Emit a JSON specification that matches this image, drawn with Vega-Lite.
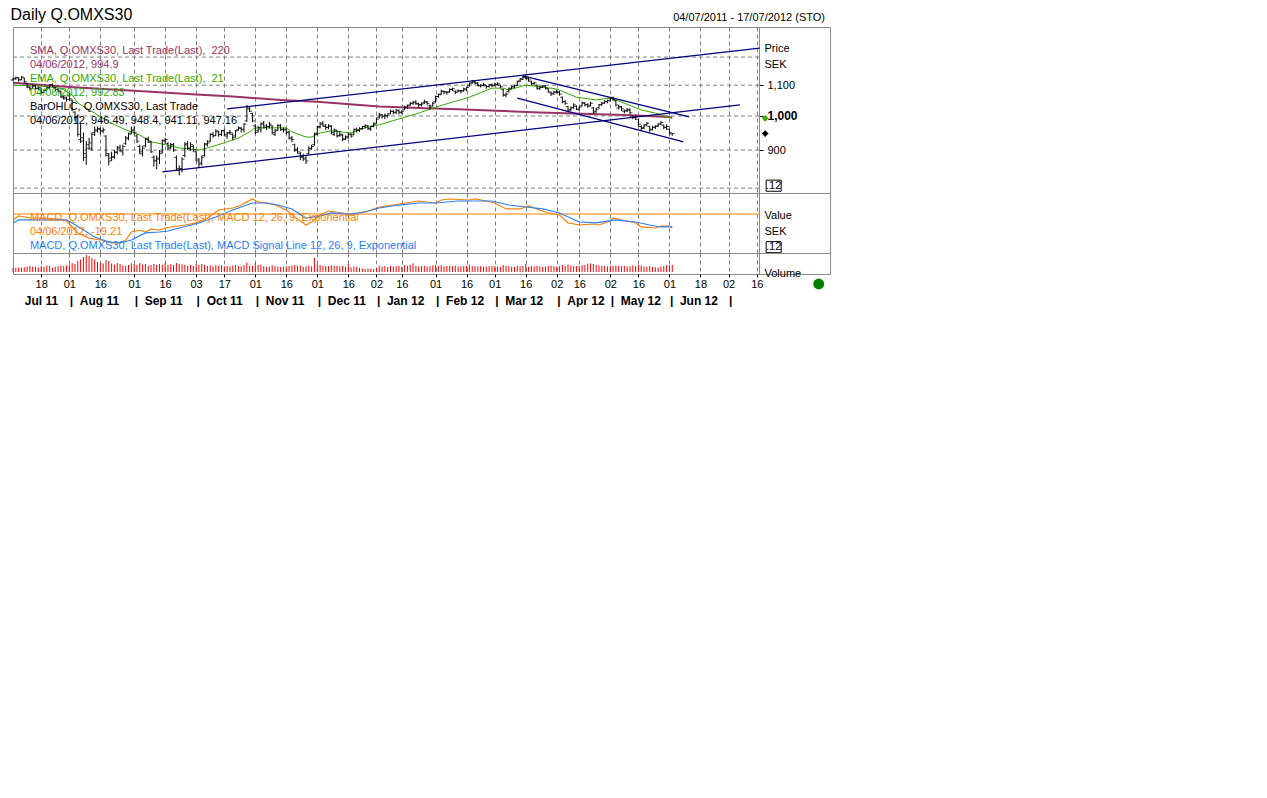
{
"$schema": "https://vega.github.io/schema/vega-lite/v6.json",
"background": "white",
"padding": {"left": 8, "top": 6, "right": 0, "bottom": 0},
"spacing": 0,
"bounds": "flush",
"resolve": {"scale": {"color": "independent"}},
"title": {"text": "Daily Q.OMXS30", "anchor": "start", "fontSize": 16, "fontWeight": "normal", "color": "black", "dx": 2, "offset": -11},
"params": [
 {"name": "days", "value": ["2011-07-04","2011-07-05","2011-07-06","2011-07-07","2011-07-08","2011-07-11","2011-07-12","2011-07-13","2011-07-14","2011-07-15","2011-07-18","2011-07-19","2011-07-20","2011-07-21","2011-07-22","2011-07-25","2011-07-26","2011-07-27","2011-07-28","2011-07-29",
 "2011-08-01","2011-08-02","2011-08-03","2011-08-04","2011-08-05","2011-08-08","2011-08-09","2011-08-10","2011-08-11","2011-08-12","2011-08-15","2011-08-16","2011-08-17","2011-08-18","2011-08-19","2011-08-22","2011-08-23","2011-08-24","2011-08-25","2011-08-26","2011-08-29","2011-08-30","2011-08-31",
 "2011-09-01","2011-09-02","2011-09-05","2011-09-06","2011-09-07","2011-09-08","2011-09-09","2011-09-12","2011-09-13","2011-09-14","2011-09-15","2011-09-16","2011-09-19","2011-09-20","2011-09-21","2011-09-22","2011-09-23","2011-09-26","2011-09-27","2011-09-28","2011-09-29","2011-09-30",
 "2011-10-03","2011-10-04","2011-10-05","2011-10-06","2011-10-07","2011-10-10","2011-10-11","2011-10-12","2011-10-13","2011-10-14","2011-10-17","2011-10-18","2011-10-19","2011-10-20","2011-10-21","2011-10-24","2011-10-25","2011-10-26","2011-10-27","2011-10-28","2011-10-31",
 "2011-11-01","2011-11-02","2011-11-03","2011-11-04","2011-11-07","2011-11-08","2011-11-09","2011-11-10","2011-11-11","2011-11-14","2011-11-15","2011-11-16","2011-11-17","2011-11-18","2011-11-21","2011-11-22","2011-11-23","2011-11-24","2011-11-25","2011-11-28","2011-11-29","2011-11-30",
 "2011-12-01","2011-12-02","2011-12-05","2011-12-06","2011-12-07","2011-12-08","2011-12-09","2011-12-12","2011-12-13","2011-12-14","2011-12-15","2011-12-16","2011-12-19","2011-12-20","2011-12-21","2011-12-22","2011-12-23","2011-12-27","2011-12-28","2011-12-29","2011-12-30",
 "2012-01-02","2012-01-03","2012-01-04","2012-01-05","2012-01-09","2012-01-10","2012-01-11","2012-01-12","2012-01-13","2012-01-16","2012-01-17","2012-01-18","2012-01-19","2012-01-20","2012-01-23","2012-01-24","2012-01-25","2012-01-26","2012-01-27","2012-01-30","2012-01-31",
 "2012-02-01","2012-02-02","2012-02-03","2012-02-06","2012-02-07","2012-02-08","2012-02-09","2012-02-10","2012-02-13","2012-02-14","2012-02-15","2012-02-16","2012-02-17","2012-02-20","2012-02-21","2012-02-22","2012-02-23","2012-02-24","2012-02-27","2012-02-28","2012-02-29",
 "2012-03-01","2012-03-02","2012-03-05","2012-03-06","2012-03-07","2012-03-08","2012-03-09","2012-03-12","2012-03-13","2012-03-14","2012-03-15","2012-03-16","2012-03-19","2012-03-20","2012-03-21","2012-03-22","2012-03-23","2012-03-26","2012-03-27","2012-03-28","2012-03-29","2012-03-30",
 "2012-04-02","2012-04-03","2012-04-04","2012-04-05","2012-04-10","2012-04-11","2012-04-12","2012-04-13","2012-04-16","2012-04-17","2012-04-18","2012-04-19","2012-04-20","2012-04-23","2012-04-24","2012-04-25","2012-04-26","2012-04-27","2012-04-30",
 "2012-05-02","2012-05-03","2012-05-04","2012-05-07","2012-05-08","2012-05-09","2012-05-10","2012-05-11","2012-05-14","2012-05-15","2012-05-16","2012-05-18","2012-05-21","2012-05-22","2012-05-23","2012-05-24","2012-05-25","2012-05-28","2012-05-29","2012-05-30","2012-05-31",
 "2012-06-01","2012-06-04","2012-06-05","2012-06-06","2012-06-07","2012-06-08","2012-06-11","2012-06-12","2012-06-13","2012-06-14","2012-06-15","2012-06-18","2012-06-19","2012-06-20","2012-06-21","2012-06-22","2012-06-25","2012-06-26","2012-06-27","2012-06-28","2012-06-29",
 "2012-07-02","2012-07-03","2012-07-04","2012-07-05","2012-07-06","2012-07-09","2012-07-10","2012-07-11","2012-07-12","2012-07-13","2012-07-16","2012-07-17","2012-07-18","2012-07-19","2012-07-20","2012-07-23","2012-07-24","2012-07-25","2012-07-26","2012-07-27","2012-07-30","2012-07-31",
 "2012-08-01","2012-08-02","2012-08-03","2012-08-06","2012-08-07","2012-08-08","2012-08-09","2012-08-10","2012-08-13","2012-08-14","2012-08-15","2012-08-16","2012-08-17","2012-08-20","2012-08-21"]},
 {"name": "tickdays", "value": ["2011-07-18","2011-08-01","2011-08-16","2011-09-01","2011-09-16","2011-10-03","2011-10-17","2011-11-01","2011-11-16","2011-12-01","2011-12-16","2012-01-02","2012-01-16","2012-02-01","2012-02-16","2012-03-01","2012-03-16","2012-04-02","2012-04-16","2012-05-02","2012-05-16","2012-06-01","2012-06-18","2012-07-02","2012-07-16"]}
],
"datasets": {
 "px": [
{"d":"2011-07-04","o":1118,"h":1126,"l":1115,"c":1122,"v":40},
{"d":"2011-07-05","o":1122,"h":1130,"l":1119,"c":1126,"v":42},
{"d":"2011-07-06","o":1125,"h":1127,"l":1112,"c":1118,"v":45},
{"d":"2011-07-07","o":1119,"h":1132,"l":1117,"c":1128,"v":44},
{"d":"2011-07-08","o":1125,"h":1126,"l":1108,"c":1112,"v":48},
{"d":"2011-07-11","o":1106,"h":1108,"l":1090,"c":1095,"v":55},
{"d":"2011-07-12","o":1092,"h":1096,"l":1082,"c":1088,"v":60},
{"d":"2011-07-13","o":1090,"h":1102,"l":1088,"c":1098,"v":52},
{"d":"2011-07-14","o":1097,"h":1100,"l":1085,"c":1090,"v":50},
{"d":"2011-07-15","o":1088,"h":1096,"l":1084,"c":1092,"v":45},
{"d":"2011-07-18","o":1086,"h":1090,"l":1070,"c":1075,"v":58},
{"d":"2011-07-19","o":1076,"h":1086,"l":1074,"c":1082,"v":52},
{"d":"2011-07-20","o":1084,"h":1095,"l":1082,"c":1092,"v":65},
{"d":"2011-07-21","o":1090,"h":1103,"l":1086,"c":1100,"v":60},
{"d":"2011-07-22","o":1102,"h":1106,"l":1094,"c":1098,"v":45},
{"d":"2011-07-25","o":1092,"h":1094,"l":1080,"c":1085,"v":52},
{"d":"2011-07-26","o":1086,"h":1090,"l":1076,"c":1080,"v":58},
{"d":"2011-07-27","o":1078,"h":1082,"l":1058,"c":1062,"v":66},
{"d":"2011-07-28","o":1058,"h":1068,"l":1052,"c":1060,"v":60},
{"d":"2011-07-29","o":1055,"h":1062,"l":1045,"c":1052,"v":65},
{"d":"2011-08-01","o":1065,"h":1072,"l":1050,"c":1055,"v":75},
{"d":"2011-08-02","o":1050,"h":1053,"l":1015,"c":1020,"v":88},
{"d":"2011-08-03","o":1012,"h":1015,"l":985,"c":995,"v":82},
{"d":"2011-08-04","o":998,"h":1005,"l":938,"c":945,"v":110},
{"d":"2011-08-05","o":930,"h":975,"l":920,"c":935,"v":125},
{"d":"2011-08-08","o":925,"h":950,"l":870,"c":890,"v":150},
{"d":"2011-08-09","o":880,"h":925,"l":860,"c":905,"v":170},
{"d":"2011-08-10","o":915,"h":935,"l":900,"c":920,"v":160},
{"d":"2011-08-11","o":905,"h":950,"l":898,"c":945,"v":140},
{"d":"2011-08-12","o":950,"h":968,"l":940,"c":955,"v":125},
{"d":"2011-08-15","o":958,"h":968,"l":950,"c":962,"v":100},
{"d":"2011-08-16","o":960,"h":965,"l":945,"c":955,"v":92},
{"d":"2011-08-17","o":955,"h":965,"l":948,"c":958,"v":85},
{"d":"2011-08-18","o":940,"h":942,"l":882,"c":890,"v":120},
{"d":"2011-08-19","o":885,"h":892,"l":858,"c":870,"v":110},
{"d":"2011-08-22","o":878,"h":895,"l":870,"c":880,"v":85},
{"d":"2011-08-23","o":882,"h":900,"l":875,"c":895,"v":75},
{"d":"2011-08-24","o":893,"h":912,"l":888,"c":905,"v":90},
{"d":"2011-08-25","o":908,"h":915,"l":895,"c":900,"v":80},
{"d":"2011-08-26","o":895,"h":915,"l":885,"c":910,"v":65},
{"d":"2011-08-29","o":918,"h":940,"l":915,"c":935,"v":60},
{"d":"2011-08-30","o":932,"h":950,"l":928,"c":945,"v":70},
{"d":"2011-08-31","o":948,"h":968,"l":945,"c":955,"v":88},
{"d":"2011-09-01","o":958,"h":968,"l":945,"c":950,"v":80},
{"d":"2011-09-02","o":940,"h":945,"l":920,"c":925,"v":72},
{"d":"2011-09-05","o":910,"h":915,"l":888,"c":895,"v":90},
{"d":"2011-09-06","o":890,"h":912,"l":882,"c":905,"v":75},
{"d":"2011-09-07","o":912,"h":935,"l":908,"c":930,"v":80},
{"d":"2011-09-08","o":932,"h":938,"l":920,"c":925,"v":62},
{"d":"2011-09-09","o":922,"h":926,"l":892,"c":895,"v":70},
{"d":"2011-09-12","o":880,"h":885,"l":855,"c":870,"v":80},
{"d":"2011-09-13","o":872,"h":885,"l":848,"c":875,"v":70},
{"d":"2011-09-14","o":878,"h":900,"l":862,"c":890,"v":80},
{"d":"2011-09-15","o":895,"h":930,"l":890,"c":925,"v":72},
{"d":"2011-09-16","o":928,"h":935,"l":918,"c":930,"v":90},
{"d":"2011-09-19","o":918,"h":922,"l":900,"c":905,"v":70},
{"d":"2011-09-20","o":908,"h":920,"l":902,"c":915,"v":78},
{"d":"2011-09-21","o":915,"h":920,"l":895,"c":900,"v":70},
{"d":"2011-09-22","o":880,"h":885,"l":845,"c":850,"v":90},
{"d":"2011-09-23","o":845,"h":858,"l":832,"c":848,"v":80},
{"d":"2011-09-26","o":850,"h":880,"l":840,"c":875,"v":78},
{"d":"2011-09-27","o":885,"h":922,"l":880,"c":915,"v":72},
{"d":"2011-09-28","o":918,"h":925,"l":900,"c":905,"v":62},
{"d":"2011-09-29","o":905,"h":922,"l":898,"c":915,"v":70},
{"d":"2011-09-30","o":910,"h":915,"l":895,"c":900,"v":60},
{"d":"2011-10-03","o":895,"h":898,"l":870,"c":875,"v":78},
{"d":"2011-10-04","o":870,"h":878,"l":852,"c":862,"v":72},
{"d":"2011-10-05","o":865,"h":885,"l":858,"c":880,"v":80},
{"d":"2011-10-06","o":885,"h":920,"l":882,"c":915,"v":70},
{"d":"2011-10-07","o":918,"h":928,"l":910,"c":920,"v":60},
{"d":"2011-10-10","o":925,"h":948,"l":922,"c":945,"v":65},
{"d":"2011-10-11","o":945,"h":952,"l":935,"c":940,"v":58},
{"d":"2011-10-12","o":942,"h":960,"l":940,"c":955,"v":70},
{"d":"2011-10-13","o":952,"h":955,"l":938,"c":945,"v":62},
{"d":"2011-10-14","o":944,"h":958,"l":940,"c":955,"v":68},
{"d":"2011-10-17","o":956,"h":960,"l":940,"c":945,"v":58},
{"d":"2011-10-18","o":940,"h":952,"l":932,"c":948,"v":62},
{"d":"2011-10-19","o":950,"h":958,"l":944,"c":950,"v":55},
{"d":"2011-10-20","o":945,"h":948,"l":928,"c":935,"v":65},
{"d":"2011-10-21","o":940,"h":958,"l":936,"c":955,"v":70},
{"d":"2011-10-24","o":958,"h":968,"l":955,"c":965,"v":60},
{"d":"2011-10-25","o":962,"h":966,"l":950,"c":960,"v":58},
{"d":"2011-10-26","o":958,"h":978,"l":950,"c":975,"v":68},
{"d":"2011-10-27","o":985,"h":1035,"l":982,"c":1025,"v":95},
{"d":"2011-10-28","o":1022,"h":1030,"l":1012,"c":1015,"v":62},
{"d":"2011-10-31","o":1008,"h":1010,"l":982,"c":985,"v":60},
{"d":"2011-11-01","o":970,"h":975,"l":945,"c":950,"v":90},
{"d":"2011-11-02","o":955,"h":970,"l":950,"c":965,"v":70},
{"d":"2011-11-03","o":960,"h":980,"l":950,"c":975,"v":75},
{"d":"2011-11-04","o":978,"h":985,"l":962,"c":970,"v":60},
{"d":"2011-11-07","o":965,"h":975,"l":958,"c":968,"v":52},
{"d":"2011-11-08","o":968,"h":982,"l":962,"c":975,"v":55},
{"d":"2011-11-09","o":970,"h":972,"l":945,"c":950,"v":68},
{"d":"2011-11-10","o":945,"h":960,"l":940,"c":955,"v":60},
{"d":"2011-11-11","o":958,"h":975,"l":955,"c":970,"v":55},
{"d":"2011-11-14","o":972,"h":975,"l":955,"c":960,"v":50},
{"d":"2011-11-15","o":958,"h":965,"l":950,"c":958,"v":52},
{"d":"2011-11-16","o":960,"h":962,"l":945,"c":950,"v":55},
{"d":"2011-11-17","o":952,"h":955,"l":930,"c":935,"v":60},
{"d":"2011-11-18","o":932,"h":940,"l":922,"c":930,"v":65},
{"d":"2011-11-21","o":915,"h":918,"l":895,"c":900,"v":70},
{"d":"2011-11-22","o":902,"h":908,"l":890,"c":895,"v":62},
{"d":"2011-11-23","o":890,"h":895,"l":872,"c":880,"v":65},
{"d":"2011-11-24","o":882,"h":890,"l":870,"c":878,"v":50},
{"d":"2011-11-25","o":875,"h":885,"l":862,"c":870,"v":55},
{"d":"2011-11-28","o":890,"h":910,"l":888,"c":905,"v":65},
{"d":"2011-11-29","o":905,"h":915,"l":900,"c":910,"v":58},
{"d":"2011-11-30","o":915,"h":950,"l":912,"c":945,"v":140},
{"d":"2011-12-01","o":948,"h":970,"l":942,"c":965,"v":75},
{"d":"2011-12-02","o":968,"h":982,"l":962,"c":975,"v":70},
{"d":"2011-12-05","o":978,"h":985,"l":968,"c":972,"v":62},
{"d":"2011-12-06","o":968,"h":975,"l":958,"c":965,"v":60},
{"d":"2011-12-07","o":966,"h":975,"l":960,"c":968,"v":58},
{"d":"2011-12-08","o":970,"h":972,"l":945,"c":950,"v":68},
{"d":"2011-12-09","o":945,"h":962,"l":940,"c":958,"v":60},
{"d":"2011-12-12","o":955,"h":958,"l":936,"c":940,"v":62},
{"d":"2011-12-13","o":942,"h":955,"l":938,"c":945,"v":55},
{"d":"2011-12-14","o":942,"h":946,"l":925,"c":930,"v":60},
{"d":"2011-12-15","o":932,"h":942,"l":928,"c":935,"v":52},
{"d":"2011-12-16","o":938,"h":950,"l":932,"c":945,"v":80},
{"d":"2011-12-19","o":944,"h":948,"l":935,"c":940,"v":45},
{"d":"2011-12-20","o":945,"h":962,"l":942,"c":960,"v":55},
{"d":"2011-12-21","o":958,"h":965,"l":950,"c":958,"v":50},
{"d":"2011-12-22","o":956,"h":966,"l":952,"c":962,"v":42},
{"d":"2011-12-23","o":962,"h":970,"l":958,"c":968,"v":35},
{"d":"2011-12-27","o":968,"h":975,"l":962,"c":970,"v":30},
{"d":"2011-12-28","o":970,"h":972,"l":958,"c":962,"v":35},
{"d":"2011-12-29","o":960,"h":970,"l":955,"c":968,"v":32},
{"d":"2011-12-30","o":970,"h":980,"l":966,"c":975,"v":28},
{"d":"2012-01-02","o":978,"h":995,"l":975,"c":990,"v":40},
{"d":"2012-01-03","o":995,"h":1010,"l":992,"c":1005,"v":62},
{"d":"2012-01-04","o":1002,"h":1006,"l":992,"c":1000,"v":55},
{"d":"2012-01-05","o":998,"h":1008,"l":990,"c":1002,"v":58},
{"d":"2012-01-09","o":1000,"h":1008,"l":995,"c":1003,"v":50},
{"d":"2012-01-10","o":1008,"h":1020,"l":1005,"c":1015,"v":62},
{"d":"2012-01-11","o":1014,"h":1018,"l":1005,"c":1012,"v":55},
{"d":"2012-01-12","o":1010,"h":1022,"l":1006,"c":1018,"v":58},
{"d":"2012-01-13","o":1016,"h":1020,"l":1005,"c":1012,"v":60},
{"d":"2012-01-16","o":1010,"h":1018,"l":1006,"c":1015,"v":52},
{"d":"2012-01-17","o":1020,"h":1032,"l":1018,"c":1028,"v":68},
{"d":"2012-01-18","o":1026,"h":1036,"l":1022,"c":1032,"v":62},
{"d":"2012-01-19","o":1035,"h":1045,"l":1032,"c":1040,"v":70},
{"d":"2012-01-20","o":1040,"h":1048,"l":1035,"c":1042,"v":85},
{"d":"2012-01-23","o":1044,"h":1050,"l":1035,"c":1040,"v":60},
{"d":"2012-01-24","o":1038,"h":1042,"l":1028,"c":1035,"v":55},
{"d":"2012-01-25","o":1036,"h":1042,"l":1030,"c":1038,"v":58},
{"d":"2012-01-26","o":1042,"h":1052,"l":1038,"c":1045,"v":62},
{"d":"2012-01-27","o":1044,"h":1048,"l":1035,"c":1040,"v":55},
{"d":"2012-01-30","o":1032,"h":1036,"l":1020,"c":1028,"v":58},
{"d":"2012-01-31","o":1032,"h":1045,"l":1030,"c":1040,"v":65},
{"d":"2012-02-01","o":1045,"h":1065,"l":1042,"c":1062,"v":70},
{"d":"2012-02-02","o":1062,"h":1072,"l":1058,"c":1068,"v":62},
{"d":"2012-02-03","o":1070,"h":1085,"l":1068,"c":1080,"v":68},
{"d":"2012-02-06","o":1078,"h":1082,"l":1070,"c":1078,"v":55},
{"d":"2012-02-07","o":1076,"h":1080,"l":1068,"c":1075,"v":60},
{"d":"2012-02-08","o":1078,"h":1090,"l":1075,"c":1085,"v":62},
{"d":"2012-02-09","o":1086,"h":1092,"l":1080,"c":1088,"v":58},
{"d":"2012-02-10","o":1080,"h":1082,"l":1070,"c":1075,"v":65},
{"d":"2012-02-13","o":1080,"h":1086,"l":1076,"c":1082,"v":55},
{"d":"2012-02-14","o":1080,"h":1084,"l":1072,"c":1080,"v":58},
{"d":"2012-02-15","o":1082,"h":1092,"l":1078,"c":1088,"v":60},
{"d":"2012-02-16","o":1085,"h":1095,"l":1080,"c":1092,"v":62},
{"d":"2012-02-17","o":1098,"h":1110,"l":1095,"c":1105,"v":75},
{"d":"2012-02-20","o":1108,"h":1118,"l":1105,"c":1112,"v":58},
{"d":"2012-02-21","o":1110,"h":1115,"l":1102,"c":1108,"v":60},
{"d":"2012-02-22","o":1106,"h":1110,"l":1096,"c":1100,"v":55},
{"d":"2012-02-23","o":1098,"h":1104,"l":1092,"c":1098,"v":58},
{"d":"2012-02-24","o":1100,"h":1108,"l":1096,"c":1102,"v":52},
{"d":"2012-02-27","o":1098,"h":1100,"l":1088,"c":1095,"v":55},
{"d":"2012-02-28","o":1096,"h":1104,"l":1092,"c":1100,"v":58},
{"d":"2012-02-29","o":1102,"h":1106,"l":1094,"c":1098,"v":60},
{"d":"2012-03-01","o":1100,"h":1108,"l":1096,"c":1102,"v":58},
{"d":"2012-03-02","o":1104,"h":1110,"l":1100,"c":1105,"v":55},
{"d":"2012-03-05","o":1100,"h":1102,"l":1090,"c":1095,"v":52},
{"d":"2012-03-06","o":1085,"h":1088,"l":1062,"c":1068,"v":70},
{"d":"2012-03-07","o":1066,"h":1076,"l":1060,"c":1070,"v":62},
{"d":"2012-03-08","o":1078,"h":1092,"l":1075,"c":1088,"v":58},
{"d":"2012-03-09","o":1090,"h":1098,"l":1086,"c":1095,"v":55},
{"d":"2012-03-12","o":1094,"h":1102,"l":1090,"c":1098,"v":50},
{"d":"2012-03-13","o":1100,"h":1115,"l":1098,"c":1112,"v":62},
{"d":"2012-03-14","o":1115,"h":1125,"l":1110,"c":1122,"v":58},
{"d":"2012-03-15","o":1120,"h":1132,"l":1118,"c":1128,"v":60},
{"d":"2012-03-16","o":1126,"h":1135,"l":1120,"c":1125,"v":80},
{"d":"2012-03-19","o":1122,"h":1126,"l":1112,"c":1118,"v":52},
{"d":"2012-03-20","o":1112,"h":1115,"l":1100,"c":1105,"v":60},
{"d":"2012-03-21","o":1106,"h":1112,"l":1102,"c":1108,"v":55},
{"d":"2012-03-22","o":1100,"h":1102,"l":1085,"c":1090,"v":62},
{"d":"2012-03-23","o":1088,"h":1096,"l":1084,"c":1092,"v":58},
{"d":"2012-03-26","o":1094,"h":1100,"l":1090,"c":1095,"v":52},
{"d":"2012-03-27","o":1098,"h":1100,"l":1086,"c":1090,"v":55},
{"d":"2012-03-28","o":1088,"h":1090,"l":1075,"c":1078,"v":60},
{"d":"2012-03-29","o":1074,"h":1078,"l":1064,"c":1070,"v":62},
{"d":"2012-03-30","o":1072,"h":1080,"l":1068,"c":1075,"v":58},
{"d":"2012-04-02","o":1078,"h":1085,"l":1072,"c":1078,"v":55},
{"d":"2012-04-03","o":1076,"h":1080,"l":1065,"c":1070,"v":58},
{"d":"2012-04-04","o":1060,"h":1062,"l":1040,"c":1045,"v":70},
{"d":"2012-04-05","o":1046,"h":1050,"l":1035,"c":1040,"v":62},
{"d":"2012-04-10","o":1030,"h":1032,"l":1012,"c":1018,"v":75},
{"d":"2012-04-11","o":1020,"h":1030,"l":1015,"c":1025,"v":65},
{"d":"2012-04-12","o":1026,"h":1040,"l":1022,"c":1035,"v":60},
{"d":"2012-04-13","o":1030,"h":1034,"l":1018,"c":1022,"v":58},
{"d":"2012-04-16","o":1020,"h":1032,"l":1015,"c":1028,"v":62},
{"d":"2012-04-17","o":1032,"h":1046,"l":1030,"c":1042,"v":68},
{"d":"2012-04-18","o":1040,"h":1044,"l":1030,"c":1035,"v":70},
{"d":"2012-04-19","o":1036,"h":1040,"l":1026,"c":1030,"v":82},
{"d":"2012-04-20","o":1034,"h":1045,"l":1030,"c":1040,"v":85},
{"d":"2012-04-23","o":1025,"h":1028,"l":1006,"c":1012,"v":80},
{"d":"2012-04-24","o":1015,"h":1025,"l":1010,"c":1020,"v":70},
{"d":"2012-04-25","o":1026,"h":1038,"l":1022,"c":1035,"v":65},
{"d":"2012-04-26","o":1036,"h":1044,"l":1032,"c":1040,"v":62},
{"d":"2012-04-27","o":1042,"h":1050,"l":1038,"c":1045,"v":60},
{"d":"2012-04-30","o":1046,"h":1052,"l":1040,"c":1048,"v":55},
{"d":"2012-05-02","o":1050,"h":1060,"l":1045,"c":1055,"v":62},
{"d":"2012-05-03","o":1056,"h":1062,"l":1048,"c":1052,"v":58},
{"d":"2012-05-04","o":1048,"h":1050,"l":1030,"c":1035,"v":65},
{"d":"2012-05-07","o":1025,"h":1035,"l":1020,"c":1030,"v":60},
{"d":"2012-05-08","o":1028,"h":1032,"l":1015,"c":1022,"v":58},
{"d":"2012-05-09","o":1015,"h":1020,"l":1008,"c":1015,"v":62},
{"d":"2012-05-10","o":1018,"h":1025,"l":1012,"c":1018,"v":55},
{"d":"2012-05-11","o":1020,"h":1024,"l":1005,"c":1010,"v":58},
{"d":"2012-05-14","o":1000,"h":1002,"l":990,"c":995,"v":65},
{"d":"2012-05-15","o":996,"h":1004,"l":988,"c":998,"v":60},
{"d":"2012-05-16","o":990,"h":992,"l":968,"c":975,"v":70},
{"d":"2012-05-18","o":968,"h":972,"l":955,"c":962,"v":65},
{"d":"2012-05-21","o":965,"h":975,"l":960,"c":970,"v":55},
{"d":"2012-05-22","o":974,"h":982,"l":970,"c":978,"v":52},
{"d":"2012-05-23","o":968,"h":970,"l":952,"c":958,"v":60},
{"d":"2012-05-24","o":960,"h":970,"l":956,"c":965,"v":50},
{"d":"2012-05-25","o":966,"h":972,"l":960,"c":968,"v":48},
{"d":"2012-05-28","o":970,"h":978,"l":966,"c":975,"v":45},
{"d":"2012-05-29","o":976,"h":985,"l":972,"c":980,"v":55},
{"d":"2012-05-30","o":972,"h":974,"l":960,"c":965,"v":60},
{"d":"2012-05-31","o":966,"h":975,"l":958,"c":968,"v":68},
{"d":"2012-06-01","o":960,"h":962,"l":945,"c":950,"v":70},
{"d":"2012-06-04","o":946.49,"h":948.4,"l":941.11,"c":947.16,"v":72}
 ],
 "sma": [
{"d":"2011-07-04","v":1108},{"d":"2011-08-01","v":1094},{"d":"2011-09-01","v":1081},{"d":"2011-10-03","v":1069},{"d":"2011-10-20","v":1062},{"d":"2011-11-14","v":1051},{"d":"2011-12-01","v":1045},{"d":"2012-01-03","v":1030},{"d":"2012-01-24","v":1025},{"d":"2012-02-13","v":1021},{"d":"2012-03-23","v":1011},{"d":"2012-05-09","v":1003},{"d":"2012-06-01","v":997},{"d":"2012-06-04","v":994.9}
 ],
 "ema": [
{"d":"2011-07-04","v":1100},{"d":"2011-07-18","v":1097},{"d":"2011-07-27","v":1090},{"d":"2011-08-02","v":1067},{"d":"2011-08-04","v":1041},{"d":"2011-08-12","v":1009},{"d":"2011-08-19","v":982},{"d":"2011-08-29","v":958},{"d":"2011-09-05","v":943},{"d":"2011-09-09","v":923},{"d":"2011-09-15","v":917},{"d":"2011-09-23","v":906},{"d":"2011-10-04","v":900},{"d":"2011-10-10","v":908},{"d":"2011-10-18","v":923},{"d":"2011-10-24","v":934},{"d":"2011-10-28","v":952},{"d":"2011-11-01","v":964},{"d":"2011-11-07","v":964},{"d":"2011-11-16","v":964},{"d":"2011-11-18","v":952},{"d":"2011-11-25","v":937},{"d":"2011-11-29","v":937},{"d":"2011-12-02","v":949},{"d":"2011-12-08","v":955},{"d":"2011-12-19","v":949},{"d":"2011-12-27","v":964},{"d":"2012-01-03","v":973},{"d":"2012-01-13","v":991},{"d":"2012-01-24","v":1009},{"d":"2012-02-01","v":1028},{"d":"2012-02-17","v":1060},{"d":"2012-02-29","v":1090},{"d":"2012-03-06","v":1090},{"d":"2012-03-08","v":1084},{"d":"2012-03-16","v":1100},{"d":"2012-03-26","v":1094},{"d":"2012-04-02","v":1087},{"d":"2012-04-13","v":1060},{"d":"2012-04-24","v":1051},{"d":"2012-05-02","v":1057},{"d":"2012-05-08","v":1044},{"d":"2012-05-18","v":1019},{"d":"2012-05-25","v":1009},{"d":"2012-06-04","v":992.83}
 ],
 "macd": [
{"d":"2011-07-04","m":-8.2},{"d":"2011-07-06","m":-2.7},{"d":"2011-07-12","m":-5.5},{"d":"2011-07-19","m":-5.5},{"d":"2011-07-26","m":-6.9},{"d":"2011-07-29","m":-9.6},{"d":"2011-08-02","m":-17.8},{"d":"2011-08-04","m":-26},{"d":"2011-08-10","m":-33},{"d":"2011-08-16","m":-35.7},{"d":"2011-08-22","m":-39.8},{"d":"2011-08-25","m":-39.8},{"d":"2011-08-29","m":-35.7},{"d":"2011-08-31","m":-24.7},{"d":"2011-09-05","m":-22},{"d":"2011-09-07","m":-24.7},{"d":"2011-09-09","m":-20.6},{"d":"2011-09-14","m":-22},{"d":"2011-09-16","m":-19.2},{"d":"2011-09-20","m":-17.8},{"d":"2011-09-27","m":-15.1},{"d":"2011-10-03","m":-12.3},{"d":"2011-10-07","m":-5.5},{"d":"2011-10-13","m":5.5},{"d":"2011-10-20","m":8.2},{"d":"2011-10-25","m":12.3},{"d":"2011-10-31","m":20.6},{"d":"2011-11-02","m":16.5},{"d":"2011-11-07","m":15.1},{"d":"2011-11-10","m":12.3},{"d":"2011-11-16","m":5.5},{"d":"2011-11-21","m":-4.1},{"d":"2011-11-25","m":-15.1},{"d":"2011-11-29","m":-11},{"d":"2011-12-02","m":-1.4},{"d":"2011-12-07","m":4.1},{"d":"2011-12-14","m":1.4},{"d":"2011-12-19","m":-1.4},{"d":"2011-12-22","m":1.4},{"d":"2011-12-28","m":4.1},{"d":"2012-01-03","m":9.6},{"d":"2012-01-13","m":13.7},{"d":"2012-01-24","m":17.8},{"d":"2012-02-01","m":15.1},{"d":"2012-02-03","m":19.2},{"d":"2012-02-08","m":20.6},{"d":"2012-02-17","m":19.2},{"d":"2012-02-21","m":20.6},{"d":"2012-02-27","m":17.8},{"d":"2012-03-01","m":15.1},{"d":"2012-03-07","m":6.9},{"d":"2012-03-14","m":6.9},{"d":"2012-03-19","m":11},{"d":"2012-03-22","m":6.9},{"d":"2012-03-28","m":1.4},{"d":"2012-04-03","m":-1.4},{"d":"2012-04-10","m":-12.3},{"d":"2012-04-16","m":-15.1},{"d":"2012-04-23","m":-13.7},{"d":"2012-04-25","m":-15.1},{"d":"2012-05-02","m":-9.6},{"d":"2012-05-03","m":-5.5},{"d":"2012-05-08","m":-8.2},{"d":"2012-05-15","m":-12.3},{"d":"2012-05-18","m":-17.8},{"d":"2012-05-25","m":-19.2},{"d":"2012-05-29","m":-16.5},{"d":"2012-06-01","m":-16.5},{"d":"2012-06-04","m":-19.21}
 ],
 "sig": [
{"d":"2011-07-04","s":-12.3},{"d":"2011-07-06","s":-8.2},{"d":"2011-07-12","s":-8.2},{"d":"2011-07-21","s":-8.2},{"d":"2011-07-29","s":-8.2},{"d":"2011-08-02","s":-12.3},{"d":"2011-08-08","s":-22},{"d":"2011-08-12","s":-31.6},{"d":"2011-08-19","s":-38.4},{"d":"2011-08-25","s":-39.8},{"d":"2011-08-31","s":-35.7},{"d":"2011-09-07","s":-26},{"d":"2011-09-14","s":-24.7},{"d":"2011-09-19","s":-23.3},{"d":"2011-09-23","s":-19.2},{"d":"2011-10-04","s":-12.3},{"d":"2011-10-12","s":-4.1},{"d":"2011-10-20","s":5.5},{"d":"2011-10-31","s":15.1},{"d":"2011-11-07","s":15.1},{"d":"2011-11-11","s":12.3},{"d":"2011-11-18","s":6.9},{"d":"2011-11-25","s":-5.5},{"d":"2011-12-02","s":-2.7},{"d":"2011-12-08","s":1.4},{"d":"2011-12-19","s":0},{"d":"2011-12-27","s":2.7},{"d":"2012-01-03","s":8.2},{"d":"2012-01-13","s":12.3},{"d":"2012-01-24","s":15.1},{"d":"2012-02-01","s":15.1},{"d":"2012-02-13","s":17.8},{"d":"2012-02-29","s":17.8},{"d":"2012-03-08","s":12.3},{"d":"2012-03-16","s":9.6},{"d":"2012-03-26","s":6.9},{"d":"2012-04-03","s":1.4},{"d":"2012-04-16","s":-11},{"d":"2012-04-24","s":-12.3},{"d":"2012-05-04","s":-8.2},{"d":"2012-05-15","s":-11},{"d":"2012-05-23","s":-15.1},{"d":"2012-05-29","s":-17.8},{"d":"2012-06-04","s":-17.8}
 ],
 "trend": [
{"k":1,"d":"2011-10-18","v":1022},{"k":1,"d":"2012-07-17","v":1234},
{"k":2,"d":"2011-09-15","v":841},{"k":2,"d":"2012-07-06","v":1035},
{"k":3,"d":"2012-03-15","v":1132},{"k":3,"d":"2012-06-12","v":997},
{"k":4,"d":"2012-03-13","v":1057},{"k":4,"d":"2012-06-08","v":923}
 ]
},
"vconcat": [
 {
  "width": 817, "height": 166,
  "title": {"text": "04/07/2011 - 17/07/2012 (STO)", "anchor": "end", "fontSize": 11, "fontWeight": "normal", "color": "black", "dx": -5, "offset": 4},
  "resolve": {"axis": {"x": "independent", "y": "independent"}},
  "encoding": {
   "x": {"field": "d", "type": "ordinal", "scale": {"type": "point", "domain": {"expr": "days"}, "padding": 0}, "axis": null}
  },
  "layer": [
   {"data": {"values": [{"level": 800}, {"level": 900}, {"level": 1000}, {"level": 1100}, {"level": 1200}]},
    "mark": {"type": "rule", "color": "#808080", "strokeDash": [4, 3], "strokeWidth": 1},
    "encoding": {
     "x": {"datum": "2011-07-04", "type": "ordinal", "axis": null},
     "x2": {"datum": "2012-07-17"},
     "y": {"field": "level", "type": "quantitative", "scale": {"type": "log", "domain": [788, 1317], "nice": false, "zero": false},
           "axis": {"orient": "right", "offset": -71, "values": [900, 1000, 1100], "format": ",", "grid": false,
                    "labelFontSize": {"condition": {"test": "datum.value == 1000", "value": 12}, "value": 11},
                    "labelFontWeight": {"condition": {"test": "datum.value == 1000", "value": "bold"}, "value": "normal"},
                    "tickSize": 4, "tickColor": "black", "labelPadding": 4, "domainColor": "#8a8a8a",
                    "title": ["Price", "SEK"], "titleAngle": 0, "titleAlign": "left", "titleBaseline": "top", "titleX": 5, "titleY": 15, "titleLineHeight": 16}}
    }},
   {"data": {"name": "sma"}, "mark": {"type": "line", "color": "#993366", "strokeWidth": 2},
    "encoding": {"y": {"field": "v", "type": "quantitative", "axis": null}}},
   {"data": {"name": "ema"}, "mark": {"type": "line", "color": "#33aa00", "strokeWidth": 1},
    "encoding": {"y": {"field": "v", "type": "quantitative", "axis": null}}},
   {"data": {"name": "trend"}, "mark": {"type": "line", "color": "#000080", "strokeWidth": 1.3},
    "encoding": {"y": {"field": "v", "type": "quantitative", "axis": null}, "detail": {"field": "k"}}},
   {"data": {"name": "px"}, "mark": {"type": "rule", "color": "black", "strokeWidth": 1},
    "encoding": {
     "x": {"field": "d", "type": "ordinal",
           "axis": {"values": {"expr": "tickdays"}, "labels": false, "ticks": false, "domain": false, "grid": true, "gridColor": "#808080", "gridDash": [4, 3], "title": null}},
     "y": {"field": "h", "type": "quantitative", "axis": null}, "y2": {"field": "l"}}},
   {"data": {"name": "px"}, "mark": {"type": "tick", "orient": "horizontal", "color": "black", "size": 2.5, "thickness": 1, "xOffset": -1.2},
    "encoding": {"y": {"field": "o", "type": "quantitative", "axis": null}}},
   {"data": {"name": "px"}, "mark": {"type": "tick", "orient": "horizontal", "color": "black", "size": 2.5, "thickness": 1, "xOffset": 1.2},
    "encoding": {"y": {"field": "c", "type": "quantitative", "axis": null}}},
   {"data": {"values": [
      {"t": ["SMA, Q.OMXS30, Last Trade(Last),\u00a0 220", "04/06/2012, 994.9"], "at": 1223, "s": "sma"},
      {"t": ["EMA, Q.OMXS30, Last Trade(Last),\u00a0 21", "04/06/2012, 992.83"], "at": 1121, "s": "ema"},
      {"t": ["BarOHLC, Q.OMXS30, Last Trade", "04/06/2012, 946.49, 948.4, 941.11, 947.16"], "at": 1028, "s": "bar"}]},
    "mark": {"type": "text", "align": "left", "baseline": "middle", "fontSize": 11, "lineHeight": 14},
    "encoding": {
     "x": {"datum": "2011-07-12", "type": "ordinal", "axis": null},
     "y": {"field": "at", "type": "quantitative", "axis": null},
     "text": {"field": "t"},
     "color": {"field": "s", "type": "nominal", "scale": {"domain": ["sma", "ema", "bar"], "range": ["#993366", "#33aa00", "black"]}, "legend": null}}},
   {"data": {"values": [{"s": "ema", "last": 992.83}, {"s": "bar", "last": 947.16}]},
    "mark": {"type": "point", "shape": "diamond", "filled": true, "opacity": 1, "size": 45},
    "encoding": {
     "x": {"datum": "2012-07-19", "type": "ordinal", "axis": null},
     "y": {"field": "last", "type": "quantitative", "axis": null},
     "color": {"field": "s", "type": "nominal", "legend": null}}},
   {"data": {"values": [{"label": ".12"}]},
    "mark": {"type": "point", "shape": "M-1,-0.74L1,-0.74L1,0.74L-1,0.74Z", "filled": false, "opacity": 1, "size": 225, "color": "black", "strokeWidth": 1},
    "encoding": {"x": {"datum": "2012-07-24", "type": "ordinal", "axis": null}, "y": {"datum": 806, "type": "quantitative", "axis": null}}},
   {"data": {"values": [{"label": ".12"}]},
    "mark": {"type": "text", "align": "center", "baseline": "middle", "fontSize": 11, "color": "black"},
    "encoding": {"x": {"datum": "2012-07-24", "type": "ordinal", "axis": null}, "y": {"datum": 806, "type": "quantitative", "axis": null}, "text": {"field": "label"}}}
  ]
 },
 {
  "width": 817, "height": 60,
  "resolve": {"axis": {"x": "independent", "y": "independent"}},
  "encoding": {
   "x": {"field": "d", "type": "ordinal", "scale": {"type": "point", "domain": {"expr": "days"}, "padding": 0}, "axis": null}
  },
  "layer": [
   {"data": {"values": [{"zero": 0}]},
    "mark": {"type": "rule", "color": "#ff8000", "strokeWidth": 1.2},
    "encoding": {
     "x": {"datum": "2011-07-04", "type": "ordinal", "axis": null},
     "x2": {"datum": "2012-07-17"},
     "y": {"field": "zero", "type": "quantitative", "scale": {"domain": [-53.5, 28.8], "nice": false, "zero": false},
           "axis": {"orient": "right", "offset": -71, "labels": false, "ticks": false, "grid": false, "domainColor": "#8a8a8a",
                    "title": ["Value", "SEK"], "titleAngle": 0, "titleAlign": "left", "titleBaseline": "top", "titleX": 5, "titleY": 16, "titleLineHeight": 16}}
    }},
   {"data": {"name": "macd"}, "mark": {"type": "line", "color": "#ff8000", "strokeWidth": 1.2},
    "encoding": {
     "x": {"field": "d", "type": "ordinal",
           "axis": {"values": {"expr": "tickdays"}, "labels": false, "ticks": false, "domain": false, "grid": true, "gridColor": "#808080", "gridDash": [4, 3], "title": null}},
     "y": {"field": "m", "type": "quantitative", "axis": null}}},
   {"data": {"name": "sig"}, "mark": {"type": "line", "color": "#2a7fff", "strokeWidth": 1.2},
    "encoding": {"y": {"field": "s", "type": "quantitative", "axis": null}}},
   {"data": {"values": [
      {"t": ["MACD, Q.OMXS30, Last Trade(Last), MACD 12, 26, 9, Exponential", "04/06/2012, -19.21"], "at": -5.5, "s": "macd"},
      {"t": "MACD, Q.OMXS30, Last Trade(Last), MACD Signal Line 12, 26, 9, Exponential", "at": -44.3, "s": "sig"}]},
    "mark": {"type": "text", "align": "left", "baseline": "middle", "fontSize": 11, "lineHeight": 14},
    "encoding": {
     "x": {"datum": "2011-07-12", "type": "ordinal", "axis": null},
     "y": {"field": "at", "type": "quantitative", "axis": null},
     "text": {"field": "t"},
     "color": {"field": "s", "type": "nominal", "scale": {"domain": ["macd", "sig"], "range": ["#ff8000", "#1f7fff"]}, "legend": null}}},
   {"data": {"values": [{"label": ".12"}]},
    "mark": {"type": "point", "shape": "M-1,-0.74L1,-0.74L1,0.74L-1,0.74Z", "filled": false, "opacity": 1, "size": 225, "color": "black", "strokeWidth": 1},
    "encoding": {"x": {"datum": "2012-07-24", "type": "ordinal", "axis": null}, "y": {"datum": -45.5, "type": "quantitative", "axis": null}}},
   {"data": {"values": [{"label": ".12"}]},
    "mark": {"type": "text", "align": "center", "baseline": "middle", "fontSize": 11, "color": "black"},
    "encoding": {"x": {"datum": "2012-07-24", "type": "ordinal", "axis": null}, "y": {"datum": -45.5, "type": "quantitative", "axis": null}, "text": {"field": "label"}}}
  ]
 },
 {
  "width": 817, "height": 21,
  "resolve": {"axis": {"x": "independent", "y": "independent"}},
  "layer": [
   {"data": {"name": "px"}, "mark": {"type": "rule", "color": "#ff0000", "strokeWidth": 1},
    "encoding": {
     "x": {"field": "d", "type": "ordinal", "scale": {"type": "point", "domain": {"expr": "days"}, "padding": 0},
           "axis": {"orient": "bottom", "values": {"expr": "tickdays"}, "labelExpr": "substring(datum.value, 8, 10)", "labelAngle": 0,
                    "ticks": true, "tickSize": 3, "tickColor": "black", "domain": false, "grid": true, "gridColor": "#808080", "gridDash": [4, 3],
                    "labelPadding": 1, "labelFontSize": 11, "labelOverlap": false, "labelBound": false, "labelFlush": false, "title": null}},
     "y": {"field": "v", "type": "quantitative", "scale": {"domain": [-20, 190], "nice": false, "zero": false},
           "axis": {"orient": "right", "offset": -71, "labels": false, "ticks": false, "grid": false, "domainColor": "#8a8a8a",
                    "title": "Volume", "titleAngle": 0, "titleAlign": "left", "titleBaseline": "top", "titleX": 5, "titleY": 14}},
     "y2": {"datum": 0}
    }},
   {"data": {"values": [{"status": "online", "yv": -120}]},
    "mark": {"type": "point", "shape": "circle", "filled": true, "opacity": 1, "size": 120, "color": "#008000"},
    "encoding": {
     "x": {"datum": "2012-08-15", "type": "ordinal",
           "axis": {"orient": "bottom", "values": ["2011-07-08","2011-08-01","2011-09-01","2011-10-03","2011-11-01","2011-12-01","2012-01-02","2012-02-01","2012-03-01","2012-04-02","2012-05-02","2012-06-01","2012-07-02"],
                    "labelExpr": "datum.value == '2011-07-08' ? 'Jul 11' : (datum.value == '2012-07-02' ? '|' : '|\u00a0\u00a0' + utcFormat(toDate(datum.value), '%b %y'))",
                    "labelAlign": "left", "labelAngle": 0, "labelFontSize": 12, "labelFontWeight": "bold", "labelPadding": 21,
                    "ticks": false, "domain": false, "grid": false, "labelOverlap": false, "labelBound": false, "labelFlush": false, "title": null}},
     "y": {"field": "yv", "type": "quantitative", "axis": null}
    }}
  ]
 }
],
"config": {
 "font": "Liberation Sans",
 "view": {"stroke": "#8a8a8a", "strokeWidth": 1},
 "axis": {"labelFont": "Liberation Sans", "titleFont": "Liberation Sans", "labelColor": "black", "titleColor": "black", "labelFontSize": 11, "titleFontSize": 11, "titleFontWeight": "normal", "domainColor": "#8a8a8a", "tickColor": "black"},
 "title": {"font": "Liberation Sans", "color": "black", "fontWeight": "normal"},
 "text": {"font": "Liberation Sans", "fontSize": 11}
}
}
